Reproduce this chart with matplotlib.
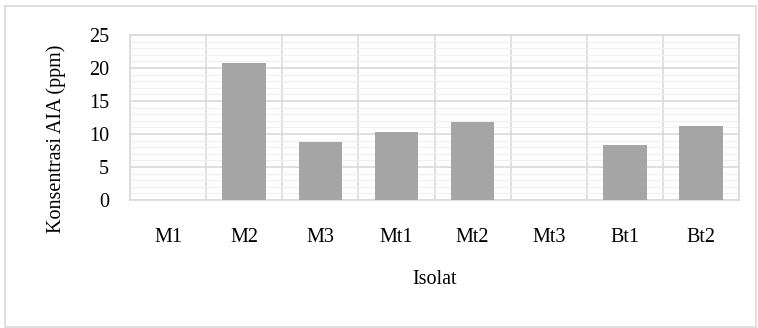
import matplotlib.pyplot as plt
import matplotlib.patches as mpatches
from matplotlib.ticker import MultipleLocator

isolat = ['M1', 'M2', 'M3', 'Mt1', 'Mt2', 'Mt3', 'Bt1', 'Bt2']
konsentrasi = [0, 20.7, 8.85, 10.35, 11.9, 0, 8.35, 11.15]

plt.rcParams['font.family'] = ['Liberation Serif', 'DejaVu Serif']

fig = plt.figure(figsize=(7.58, 3.28), dpi=100)
ax = fig.add_axes([0.1715, 0.390, 0.8035, 0.503])

# outer chart border
fig.patches.append(mpatches.Rectangle((0.007, 0.003), 0.99, 0.979, transform=fig.transFigure,
                                      fill=False, edgecolor='#d9d9d9', linewidth=1.2))

x = range(len(isolat))
ax.bar(x, konsentrasi, width=0.57, color='#a5a5a5', zorder=3)

ax.set_xlim(-0.5, len(isolat) - 0.5)
ax.set_ylim(0, 25)
ax.yaxis.set_major_locator(MultipleLocator(5))
ax.yaxis.set_minor_locator(MultipleLocator(1))
ax.set_xticks(list(x))
ax.set_xticklabels(isolat)
ax.set_xticks([i + 0.5 for i in range(-1, len(isolat))], minor=True)

ax.grid(which='minor', axis='y', color='#f0f0f0', linewidth=1.0, zorder=0)
ax.grid(which='major', axis='y', color='#d9d9d9', linewidth=1.2, zorder=1)
ax.grid(which='minor', axis='x', color='#d9d9d9', linewidth=1.2, zorder=1)

for s in ax.spines.values():
    s.set_color('#d9d9d9')
    s.set_linewidth(1.2)

ax.tick_params(which='both', length=0)
ax.tick_params(axis='y', labelsize=14.5, pad=15)
ax.tick_params(axis='x', labelsize=14.5, pad=20)

ax.set_xlabel('Isolat', fontsize=14.5, labelpad=17)
ax.set_ylabel('Konsentrasi AIA (ppm)', fontsize=14.5)
ax.yaxis.set_label_coords(-0.105, 0.37)

fig.savefig('out.png', dpi=100)
